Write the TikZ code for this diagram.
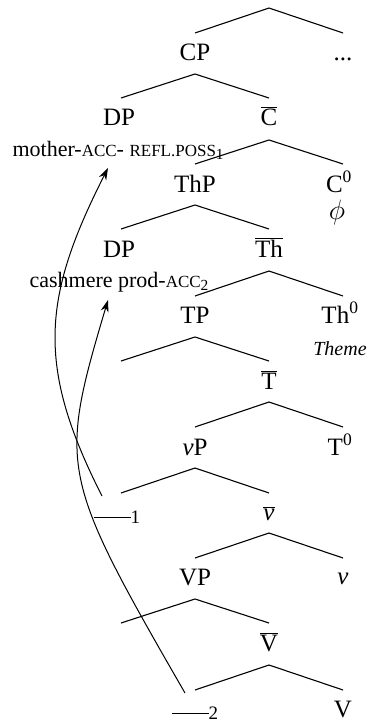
\documentclass[tikz,border=0pt]{standalone}
\usepackage{fix-cm}
\usepackage{fontspec}
\setmainfont{Liberation Serif}
\usetikzlibrary{arrows.meta}

\newcommand{\smc}[1]{{\fontsize{17}{20}\selectfont #1}}

\begin{document}
\begin{tikzpicture}[x=1pt,y=-1pt,line width=1.1pt,
    lbl/.style={anchor=base,inner sep=0pt,font=\fontsize{25}{30}\selectfont},
    gloss/.style={anchor=base west,inner sep=0pt,font=\fontsize{22}{26}\selectfont},
    trace/.style={anchor=base west,inner sep=0pt,font=\fontsize{19}{22}\selectfont},
    move/.style={-{Stealth[length=12pt,width=8pt]},line width=1pt}]
  \useasboundingbox (0,0) rectangle (373,723);

  % branch points: apex, left end, right end
  \coordinate (b1) at (269,8);    \coordinate (b1l) at (195,33);   \coordinate (b1r) at (343,33);
  \coordinate (b2) at (195,74);   \coordinate (b2l) at (121,98);   \coordinate (b2r) at (269,98);
  \coordinate (b3) at (269,140);  \coordinate (b3l) at (195,164);  \coordinate (b3r) at (343,164);
  \coordinate (b4) at (195,205);  \coordinate (b4l) at (121,229);  \coordinate (b4r) at (269,229);
  \coordinate (b5) at (269,271);  \coordinate (b5l) at (195,296);  \coordinate (b5r) at (343,296);
  \coordinate (b6) at (195,337);  \coordinate (b6l) at (121,361);  \coordinate (b6r) at (269,361);
  \coordinate (b7) at (269,402);  \coordinate (b7l) at (195,427);  \coordinate (b7r) at (343,427);
  \coordinate (b8) at (195,468);  \coordinate (b8l) at (121,493);  \coordinate (b8r) at (269,493);
  \coordinate (b9) at (269,533);  \coordinate (b9l) at (195,558);  \coordinate (b9r) at (343,558);
  \coordinate (b10) at (195,599); \coordinate (b10l) at (121,623); \coordinate (b10r) at (269,623);
  \coordinate (b11) at (269,665); \coordinate (b11l) at (195,690); \coordinate (b11r) at (343,690);

  \draw (b1l) -- (b1) -- (b1r);
  \draw (b2l) -- (b2) -- (b2r);
  \draw (b3l) -- (b3) -- (b3r);
  \draw (b4l) -- (b4) -- (b4r);
  \draw (b5l) -- (b5) -- (b5r);
  \draw (b6l) -- (b6) -- (b6r);
  \draw (b7l) -- (b7) -- (b7r);
  \draw (b8l) -- (b8) -- (b8r);
  \draw (b9l) -- (b9) -- (b9r);
  \draw (b10l) -- (b10) -- (b10r);
  \draw (b11l) -- (b11) -- (b11r);

  % category labels
  \node[lbl] (CP) at (195,60) {CP};
  \node[lbl] (dots) at (343,60) {...};
  \node[lbl] (DPa) at (119,125) {DP};
  \node[lbl] (Cbar) at (269,125) {$\overline{\mbox{C}}$};
  \node[lbl] (ThP) at (195,192) {ThP};
  \node[lbl] (C0) at (339,192) {C\textsuperscript{0}};
  \node[lbl,font=\fontsize{28}{34}\selectfont] (phi) at (337,219) {$\phi$};
  \node[lbl] (DPb) at (119,257) {DP};
  \node[lbl] (Thbar) at (269,257) {$\overline{\mbox{Th}}$};
  \node[lbl] (TP) at (195,323) {TP};
  \node[lbl] (Th0) at (340,323) {Th\textsuperscript{0}};
  \node[lbl,font=\fontsize{20}{24}\selectfont\itshape] (theme) at (340,355) {Theme};
  \node[lbl] (Tbar) at (269,389) {$\overline{\mbox{T}}$};
  \node[lbl] (vP) at (195,455) {\textit{v}P};
  \node[lbl] (T0) at (340,455) {T\textsuperscript{0}};
  \node[lbl] (vbar) at (269,520) {$\overline{\mbox{\textit{v}}}$};
  \node[lbl] (VP) at (195,585) {VP};
  \node[lbl] (vhead) at (343,584) {\textit{v}};
  \node[lbl] (Vbar) at (269,651) {$\overline{\mbox{V}}$};
  \node[lbl] (V) at (343,717) {V};

  % moved phrases and their traces
  \node[gloss] (mother) at (12,156) {mother-\smc{ACC}- \smc{REFL.POSS}\textsubscript{1}};
  \node[gloss] (cashmere) at (29,287) {cashmere prod-\smc{ACC}\textsubscript{2}};
  \node[trace] (tr1) at (93,523) {\rule[5pt]{37pt}{1pt}1};
  \node[trace] (tr2) at (171,719) {\rule[5pt]{37pt}{1pt}2};

  \coordinate (s1) at (102,496);
  \coordinate (e1) at (108,168);
  \coordinate (s2) at (185,693);
  \coordinate (e2) at (108,300);
  \draw[move] (s1) .. controls (36,366) and (42,298) .. (e1);
  \draw[move] (s2) .. controls (60,476) and (58,468) .. (e2);
\end{tikzpicture}
\end{document}
